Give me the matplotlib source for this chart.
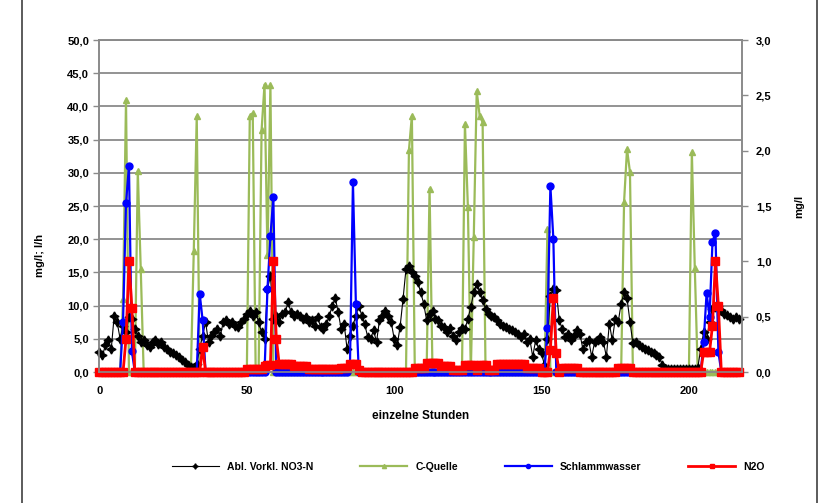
import matplotlib
matplotlib.use("Agg")
import matplotlib.pyplot as plt
import matplotlib.ticker as ticker
from matplotlib.patches import Rectangle
import numpy as np

plt.rcParams['font.family'] = ['Liberation Sans Narrow', 'Liberation Sans', 'DejaVu Sans']
plt.rcParams['font.weight'] = 'bold'

# hourly values (hour 0 .. 217)
hours = list(range(218))

no3_n = [
    3.0, 2.5, 4.0, 4.8, 3.5, 8.5, 7.5, 5.0, 7.0, 6.0,
    8.3, 8.0, 6.5, 5.5, 4.5, 4.8, 4.0, 3.8, 4.5, 4.8,
    4.2, 4.5, 3.8, 3.5, 3.0, 2.8, 2.5, 2.2, 1.8, 1.5,
    1.1, 0.8, 0.5, 1.2, 3.5, 5.5, 7.5, 4.5, 5.5, 6.0,
    6.5, 5.5, 7.5, 7.8, 7.2, 7.5, 7.0, 6.8, 7.5, 8.0,
    8.8, 9.2, 8.5, 9.0, 7.5, 6.0, 5.0, 12.5, 14.5, 8.0,
    8.5, 7.5, 8.8, 9.0, 10.5, 9.0, 8.5, 8.8, 8.5, 8.0,
    8.3, 7.5, 7.8, 7.0, 8.3, 6.8, 6.5, 7.3, 8.5, 10.0,
    11.2, 9.0, 6.5, 7.3, 3.5, 5.5, 7.0, 8.5, 10.0, 8.5,
    7.2, 5.3, 5.0, 6.3, 4.5, 7.8, 8.5, 9.2, 8.5, 7.5,
    5.0, 4.0, 6.8, 11.0, 15.5, 16.0, 15.0, 14.5, 13.5, 12.0,
    10.3, 7.8, 8.8, 9.2, 8.0, 7.8, 7.0, 6.8, 6.0, 6.6,
    5.5, 4.8, 6.0, 6.6, 6.5, 8.0, 9.8, 12.0, 13.3, 12.0,
    10.8, 9.5, 8.8, 8.5, 8.3, 7.8, 7.3, 7.0, 6.8, 6.5,
    6.3, 6.0, 5.8, 5.3, 5.8, 4.5, 5.0, 2.3, 4.8, 3.5,
    2.8, 1.0, 5.0, 11.5, 12.5, 12.3, 7.8, 6.5, 5.3, 5.8,
    4.8, 5.5, 6.3, 5.8, 3.5, 4.5, 4.8, 2.3, 4.5, 4.8,
    5.3, 4.5, 2.3, 7.3, 4.8, 8.0, 7.5, 10.3, 12.0, 11.1,
    7.6, 4.3, 4.5, 4.1, 3.8, 3.5, 3.3, 3.0, 2.8, 2.5,
    2.3, 1.0, 0.5, 0.5, 0.4, 0.5, 0.5, 0.4, 0.5, 0.5,
    0.5, 0.4, 0.5, 0.6, 3.5, 6.0, 5.0, 7.5, 9.5, 9.8,
    10.0, 9.3, 8.8, 8.6, 8.3, 8.0, 8.3, 8.0,
]

c_quelle = [
    0, 0, 0, 0, 0, 0, 0, 0, 11.0, 41.0,
    0, 0, 0, 30.3, 15.5, 0, 0, 0, 0, 0,
    0, 0, 0, 0, 0, 0, 0, 0, 0, 0,
    0, 0, 18.3, 38.5, 0, 0, 0, 0, 0, 0,
    0, 0, 0, 0, 0, 0, 0, 0, 0, 0,
    0, 38.5, 39.0, 0, 0, 36.4, 43.3, 17.6, 43.3, 0,
    0, 0, 0, 0, 0, 0, 0, 0, 0, 0,
    0, 0, 0, 0, 0, 0, 0, 0, 0, 0,
    0, 0, 0, 0, 0, 0, 0, 0, 0, 0,
    0, 0, 0, 0, 0, 0, 0, 0, 0, 0,
    0, 0, 0, 0, 0, 33.4, 38.6, 0, 0, 0,
    0, 0, 27.6, 0, 0, 0, 0, 0, 0, 0,
    0, 0, 0, 0, 37.4, 24.9, 0, 20.3, 42.3, 38.6,
    37.6, 0, 0, 0, 0, 0, 0, 0, 0, 0,
    0, 0, 0, 0, 0, 0, 0, 0, 0, 0,
    0, 0, 21.5, 0, 0, 0, 0, 0, 0, 0,
    0, 0, 0, 0, 0, 0, 0, 0, 0, 0,
    0, 0, 0, 0, 0, 0, 0, 0, 25.6, 33.6,
    30.1, 0, 0, 0, 0, 0, 0, 0, 0, 0,
    0, 0, 0, 0, 0, 0, 0, 0, 0, 0,
    0, 33.1, 15.6, 0, 0, 0, 0, 0, 0, 0,
    0, 0, 0, 0, 0, 0, 0, 0,
]

schlammwasser = [
    0, 0, 0, 0, 0, 0, 0, 0, 7.6, 25.5,
    31.0, 3.1, 0, 0, 0, 0, 0, 0, 0, 0,
    0, 0, 0, 0, 0, 0, 0, 0, 0, 0,
    0, 0, 0, 0, 11.8, 7.8, 0, 0, 0, 0,
    0, 0, 0, 0, 0, 0, 0, 0, 0, 0,
    0, 0, 0, 0, 0, 0, 0, 12.5, 20.5, 26.3,
    0, 0, 0, 0, 0, 0, 0, 0, 0, 0,
    0, 0, 0, 0, 0, 0, 0, 0, 0, 0,
    0, 0, 0, 0, 0, 1.2, 28.6, 10.3, 0, 0,
    0, 0, 0, 0, 0, 0, 0, 0, 0, 0,
    0, 0, 0, 0, 0, 0, 0, 0, 0, 0,
    0, 0, 0, 0, 0, 0, 0, 0, 0, 0,
    0, 0, 0, 0, 0, 0, 0, 0, 0, 0,
    0, 0, 0, 0, 0, 0, 0, 0, 0, 0,
    0, 0, 0, 0, 0, 0, 0, 0, 0, 0,
    0, 0, 6.6, 28.0, 20.1, 0, 0, 0, 0, 0,
    0, 0, 0, 0, 0, 0, 0, 0, 0, 0,
    0, 0, 0, 0, 0, 0, 0, 0, 0, 0,
    0, 0, 0, 0, 0, 0, 0, 0, 0, 0,
    0, 0, 0, 0, 0, 0, 0, 0, 0, 0,
    0, 0, 0, 0, 0, 4.5, 11.9, 8.3, 19.6, 21.0,
    3.0, 0, 0, 0, 0, 0, 0, 0,
]

# N2O on the secondary axis (mg/l)
n2o = [
    0, 0, 0, 0, 0, 0, 0, 0, 0, 0.30,
    1.00, 0.58, 0, 0, 0, 0, 0, 0, 0, 0,
    0, 0, 0, 0, 0, 0, 0, 0, 0, 0,
    0, 0, 0, 0, 0, 0.23, 0, 0, 0, 0,
    0, 0, 0, 0, 0, 0, 0, 0, 0, 0,
    0.03, 0.03, 0.03, 0.03, 0.03, 0.03, 0.05, 0.06, 0.06, 1.00,
    0.30, 0.07, 0.07, 0.07, 0.07, 0.07, 0.05, 0.05, 0.05, 0.05,
    0.05, 0.03, 0.03, 0.03, 0.03, 0.03, 0.03, 0.03, 0.03, 0.03,
    0.03, 0.03, 0.04, 0.04, 0.04, 0.07, 0.07, 0.07, 0.02, 0,
    0, 0, 0, 0, 0, 0, 0, 0, 0, 0,
    0, 0, 0, 0, 0, 0, 0, 0.04, 0.04, 0.04,
    0.04, 0.08, 0.08, 0.08, 0.08, 0.08, 0.05, 0.05, 0.05, 0.05,
    0.02, 0.02, 0.02, 0.02, 0.06, 0.06, 0.06, 0.06, 0.02, 0.06,
    0.06, 0.06, 0.02, 0.02, 0.02, 0.07, 0.07, 0.07, 0.07, 0.07,
    0.07, 0.07, 0.07, 0.07, 0.07, 0.04, 0.04, 0.04, 0.04, 0.04,
    0, 0, 0, 0.20, 0.67, 0.17, 0, 0.04, 0.04, 0.04,
    0.04, 0.04, 0.04, 0, 0, 0, 0, 0, 0, 0,
    0, 0, 0, 0, 0, 0, 0.04, 0.04, 0.04, 0.04,
    0.04, 0, 0, 0, 0, 0, 0, 0, 0, 0,
    0, 0, 0, 0, 0, 0, 0, 0, 0, 0,
    0, 0, 0, 0, 0, 0.18, 0.18, 0.18, 0.42, 1.00,
    0.60, 0, 0, 0, 0, 0, 0, 0,
]

series_names = ["Abl. Vorkl. NO3-N", "C-Quelle", "Schlammwasser", "N2O"]
x_ticks = [0, 50, 100, 150, 200]

fig = plt.figure(figsize=(8.29, 5.03), dpi=100)
fig.patches.append(Rectangle((22 / 829, -0.01), 795 / 829, 1.05, transform=fig.transFigure,
                             fill=False, edgecolor='#404040', lw=1.2))

ax = fig.add_axes([0.120, 0.2604, 0.775, 0.660])
ax2 = ax.twinx()

grid_col = '#8a8a8a'
l_green, = ax.plot(hours, c_quelle, color='#9BBB59', lw=1.6, marker='^', ms=5,
                   zorder=2, clip_on=False, label=series_names[1])
l_black, = ax.plot(hours, no3_n, color='black', lw=0.8, marker=(4, 1, 0), ms=6.5,
                   zorder=3, clip_on=False, label=series_names[0])
l_blue, = ax.plot(hours, schlammwasser, color='#0000FF', lw=1.6, marker='o', ms=5,
                  zorder=4, clip_on=False, label=series_names[2])
l_red, = ax2.plot(hours, n2o, color='#FF0000', lw=2.0, marker='s', ms=6,
                  clip_on=False, label=series_names[3])

ax.set_xlim(0, 218)
ax.set_ylim(0, 50)
ax2.set_ylim(0, 3)
ax.set_xticks(x_ticks)
ax.set_yticks(np.arange(0, 50.1, 5))
ax2.set_yticks(np.arange(0, 3.01, 0.5))
ax.yaxis.set_major_formatter(ticker.FuncFormatter(lambda v, p: f"{v:.1f}".replace('.', ',')))
ax2.yaxis.set_major_formatter(ticker.FuncFormatter(lambda v, p: f"{v:.1f}".replace('.', ',')))

ax.grid(axis='y', color=grid_col, lw=1.3, zorder=0)
ax.set_axisbelow(True)
for a in (ax, ax2):
    for s in a.spines.values():
        s.set_color(grid_col)
        s.set_linewidth(1.2)
    a.tick_params(labelsize=8, colors='black', length=4, width=1)
ax.tick_params(axis='both', color=grid_col)
ax2.tick_params(axis='y', color=grid_col, pad=6)
ax.tick_params(axis='x', length=0, pad=10)

ax.set_xlabel("einzelne Stunden", fontsize=8.5, fontweight='bold', labelpad=10)
ax.set_ylabel("mg/l; l/h", fontsize=8, fontweight='bold')
ax.yaxis.set_label_coords(-0.085, 0.35)
ax2.set_ylabel("mg/l", fontsize=8, fontweight='bold')
ax2.yaxis.set_label_coords(1.082, 0.5)

fig.legend(handles=[l_black, l_green, l_blue, l_red], labels=series_names,
           loc='center', bbox_to_anchor=(0.565, 0.072), ncol=4, frameon=False,
           fontsize=7.5, handlelength=4.5, columnspacing=4.5, markerscale=0.6)

fig.savefig("out.png", dpi=100)
